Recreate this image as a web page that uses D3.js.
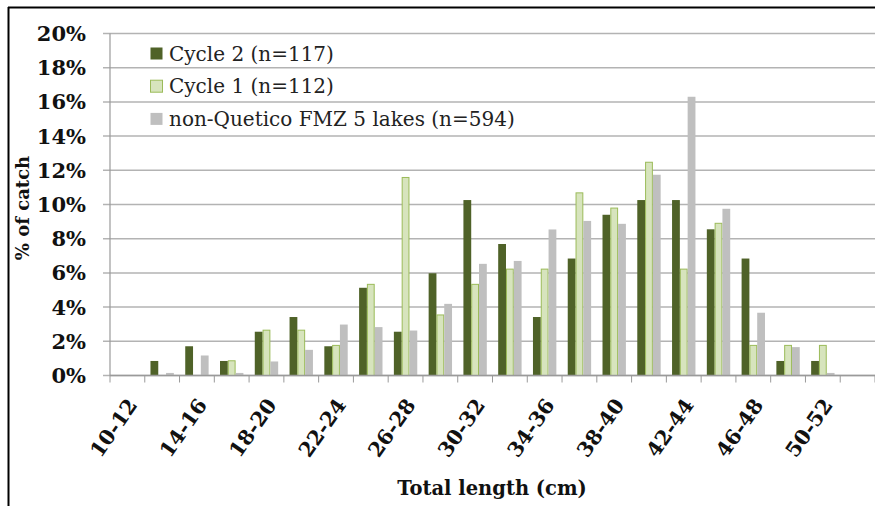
<!DOCTYPE html>
<html>
<head>
<meta charset="utf-8">
<script src="https://cdn.jsdelivr.net/npm/d3@7"></script>
<style>
  body { margin: 0; background: #fff; }
  svg { display: block; }
</style>
</head>
<body>
<svg id="chart"></svg>
<script>
const width = 875, height = 506;

// length classes (cm)
const categories = ["10-12", "12-14", "14-16", "16-18", "18-20", "20-22", "22-24", "24-26",
  "26-28", "28-30", "30-32", "32-34", "34-36", "36-38", "38-40", "40-42", "42-44", "44-46",
  "46-48", "48-50", "50-52", "52-54"];
const shownLabels = ["10-12", "14-16", "18-20", "22-24", "26-28", "30-32", "34-36", "38-40",
  "42-44", "46-48", "50-52"];

// % of catch
const cycle2 = [0, 0.85, 1.71, 0.85, 2.56, 3.42, 1.71, 5.13, 2.56, 5.98, 10.26, 7.69, 3.42,
  6.84, 9.40, 10.26, 10.26, 8.55, 6.84, 0.85, 0.85, 0];
const cycle1 = [0, 0, 0, 0.89, 2.68, 2.68, 1.79, 5.36, 11.61, 3.57, 5.36, 6.25, 6.25,
  10.71, 9.82, 12.50, 6.25, 8.93, 1.79, 1.79, 1.79, 0];
const nonQuetico = [0, 0.15, 1.17, 0.15, 0.82, 1.50, 2.98, 2.83, 2.63, 4.19, 6.53, 6.70, 8.54,
  9.04, 8.87, 11.74, 16.30, 9.75, 3.67, 1.66, 0.15, 0];

const seriesNames = ["Cycle 2 (n=117)", "Cycle 1 (n=112)", "non-Quetico FMZ 5 lakes (n=594)"];
const seriesValues = [cycle2, cycle1, nonQuetico];
const fills = ["#4f6228", "#d7e4bd", "#bfbfbf"];
const strokes = ["none", "#9bbb59", "none"];
const yTicks = [0, 2, 4, 6, 8, 10, 12, 14, 16, 18, 20];

const svg = d3.select("#chart")
  .attr("width", width)
  .attr("height", height)
  .style("font-family", "'DejaVu Serif', serif");

const x0 = d3.scaleBand()
  .domain(categories)
  .range([110, 875]);

const x1 = d3.scaleBand()
  .domain(d3.range(seriesNames.length))
  .range([0, x0.bandwidth()])
  .paddingOuter(0.73);

const y = d3.scaleLinear()
  .domain([0, 20])
  .range([375.5, 33.5]);

// gridlines
svg.append("g")
  .selectAll("line")
  .data(yTicks)
  .enter()
  .append("line")
    .attr("x1", 103)
    .attr("x2", width)
    .attr("y1", d => y(d))
    .attr("y2", d => y(d))
    .style("stroke", "#b3b3b3")
    .style("stroke-width", 1.5);

// y tick labels
svg.append("g")
  .selectAll("text")
  .data(yTicks)
  .enter()
  .append("text")
    .attr("x", 86)
    .attr("y", d => y(d))
    .attr("dy", "0.36em")
    .attr("text-anchor", "end")
    .style("font-size", "21px")
    .style("font-weight", "bold")
    .style("fill", "#111")
    .text(d => d + "%");

// bars
const rows = categories.map((c, i) => ({ cat: c, vals: seriesValues.map(s => s[i]) }));
const group = svg.append("g")
  .selectAll("g")
  .data(rows)
  .enter()
  .append("g")
    .attr("transform", d => `translate(${x0(d.cat)},0)`);

group.selectAll("rect")
  .data(d => d.vals.map((v, k) => ({ k, v })))
  .enter()
  .filter(d => d.v > 0)
  .append("rect")
    .attr("x", d => x1(d.k) + (d.k === 1 ? 0.5 : 0))
    .attr("y", d => y(d.v) + (d.k === 1 ? 0.5 : 0))
    .attr("width", d => x1.bandwidth() - (d.k === 1 ? 1 : 0))
    .attr("height", d => y(0) - y(d.v) - (d.k === 1 ? 0.5 : 0))
    .style("fill", d => fills[d.k])
    .style("stroke", d => strokes[d.k])
    .style("stroke-width", 1);

// axes lines
svg.append("line")
  .attr("x1", 110).attr("x2", 110)
  .attr("y1", y(20)).attr("y2", y(0))
  .style("stroke", "#9a9a9a")
  .style("stroke-width", 1.2);

svg.append("line")
  .attr("x1", 110).attr("x2", width)
  .attr("y1", y(0)).attr("y2", y(0))
  .style("stroke", "#9a9a9a")
  .style("stroke-width", 1.5);

svg.append("g")
  .selectAll("line")
  .data(categories.concat(["end"]))
  .enter()
  .append("line")
    .attr("x1", (d, i) => i < categories.length ? x0(d) : x0(categories[i - 1]) + x0.bandwidth())
    .attr("x2", (d, i) => i < categories.length ? x0(d) : x0(categories[i - 1]) + x0.bandwidth())
    .attr("y1", y(0))
    .attr("y2", y(0) + 7)
    .style("stroke", "#9a9a9a")
    .style("stroke-width", 1);

// x tick labels, rotated
svg.append("g")
  .selectAll("text")
  .data(shownLabels)
  .enter()
  .append("text")
    .attr("transform", d => `translate(${x0(d) + x0.bandwidth() / 2 + 5},401) rotate(-55)`)
    .attr("text-anchor", "end")
    .attr("dy", "0.35em")
    .style("font-size", "20.5px")
    .style("font-weight", "bold")
    .style("fill", "#111")
    .text(d => d);

// axis titles
svg.append("text")
  .attr("x", 492)
  .attr("y", 495)
  .attr("text-anchor", "middle")
  .style("font-size", "19.5px")
  .style("font-weight", "bold")
  .style("fill", "#111")
  .text("Total length (cm)");

svg.append("text")
  .attr("transform", "translate(29,208) rotate(-90)")
  .attr("text-anchor", "middle")
  .style("font-size", "18px")
  .style("font-weight", "bold")
  .style("fill", "#111")
  .text("% of catch");

// legend
const legend = svg.append("g")
  .selectAll("g")
  .data(seriesNames)
  .enter()
  .append("g")
    .attr("transform", (d, i) => `translate(150,${47 + i * 32.7})`);

legend.append("rect")
  .attr("x", 0.5)
  .attr("y", 0.5)
  .attr("width", 12)
  .attr("height", 12)
  .style("fill", (d, i) => fills[i])
  .style("stroke", (d, i) => strokes[i])
  .style("stroke-width", 1);

legend.append("text")
  .attr("x", 19)
  .attr("y", 13.5)
  .style("font-size", "20px")
  .style("fill", "#222")
  .text(d => d);

// frame (top and left edges)
svg.append("line")
  .attr("x1", 8).attr("x2", width)
  .attr("y1", 7.5).attr("y2", 7.5)
  .style("stroke", "#000")
  .style("stroke-width", 2);
svg.append("line")
  .attr("x1", 8.5).attr("x2", 8.5)
  .attr("y1", 7).attr("y2", height)
  .style("stroke", "#000")
  .style("stroke-width", 2);
</script>
</body>
</html>
